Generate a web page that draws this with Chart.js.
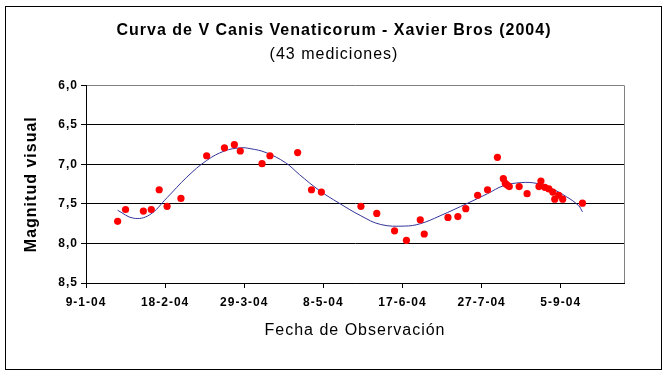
<!DOCTYPE html>
<html>
<head>
<meta charset="utf-8">
<script src="https://cdn.jsdelivr.net/npm/chart.js@4.4.1/dist/chart.umd.min.js"></script>
<style>
  body { margin: 0; background: #fff; }
  canvas { display: block; }
</style>
</head>
<body>
<canvas id="curveChart" width="668" height="377"></canvas>
<script>
// observations (date, visual magnitude)
const obsDates = [
  "2004-01-25", "2004-01-29", "2004-02-07", "2004-02-11", "2004-02-15",
  "2004-02-19", "2004-02-26", "2004-03-10", "2004-03-19", "2004-03-24",
  "2004-03-27", "2004-04-07", "2004-04-11", "2004-04-25", "2004-05-02",
  "2004-05-07", "2004-05-27", "2004-06-04", "2004-06-13", "2004-06-19",
  "2004-06-26", "2004-06-28", "2004-07-10", "2004-07-15", "2004-07-19",
  "2004-07-25", "2004-07-30", "2004-08-04", "2004-08-07", "2004-08-08",
  "2004-08-09", "2004-08-10", "2004-08-15", "2004-08-19", "2004-08-25",
  "2004-08-26", "2004-08-28", "2004-08-30", "2004-09-01", "2004-09-02",
  "2004-09-04", "2004-09-06", "2004-09-16"
];
const obsMag = [
  7.72, 7.57, 7.59, 7.57, 7.32,
  7.53, 7.43, 6.89, 6.79, 6.75,
  6.83, 6.99, 6.89, 6.85, 7.32,
  7.35, 7.53, 7.62, 7.84, 7.96,
  7.70, 7.88, 7.67, 7.66, 7.56,
  7.39, 7.32, 6.91, 7.18, 7.24,
  7.26, 7.28, 7.28, 7.37, 7.28,
  7.21, 7.29, 7.31, 7.35, 7.44,
  7.39, 7.44, 7.49
];

// polynomial trend line
const trendDates = [
  "2004-01-25", "2004-02-02", "2004-02-10", "2004-02-19", "2004-02-29",
  "2004-03-10", "2004-03-19", "2004-03-27", "2004-04-01", "2004-04-09",
  "2004-04-19", "2004-04-26", "2004-05-06", "2004-05-16", "2004-05-27",
  "2004-06-06", "2004-06-18", "2004-06-26", "2004-07-06", "2004-07-20",
  "2004-07-30", "2004-08-07", "2004-08-16", "2004-08-24", "2004-08-31",
  "2004-09-08", "2004-09-14", "2004-09-16"
];
const trendMag = [
  7.58, 7.68, 7.64, 7.42, 7.16,
  6.95, 6.83, 6.79, 6.80, 6.85,
  6.98, 7.13, 7.33, 7.49, 7.65,
  7.76, 7.78, 7.75, 7.65, 7.49,
  7.37, 7.27, 7.23, 7.24, 7.30,
  7.41, 7.52, 7.60
];

const axisStart = "2004-01-09";
const axisDays = 272;
const tickStep = 40;
const magTicks = [6.0, 6.5, 7.0, 7.5, 8.0, 8.5];

const DAY = 86400000;
const t0 = Date.parse(axisStart + "T00:00:00Z");
function toDay(s) {
  return Math.round((Date.parse(s + "T00:00:00Z") - t0) / DAY);
}
function fmtDay(d) {
  const dt = new Date(t0 + d * DAY);
  return dt.getUTCDate() + "-" + (dt.getUTCMonth() + 1) + "-" + String(dt.getUTCFullYear()).slice(2);
}

// the old Excel text is drawn a bit spaced out
const spacing = {
  id: "spacing",
  beforeDraw(chart) { chart.ctx.letterSpacing = "1px"; },
  afterDraw(chart) { chart.ctx.letterSpacing = "0px"; }
};

const frame = {
  id: "frame",
  afterDraw(chart) {
    const { ctx, chartArea } = chart;
    ctx.save();
    ctx.strokeStyle = "#808080";
    ctx.lineWidth = 1;
    ctx.beginPath();
    ctx.moveTo(chartArea.right + 0.5, chartArea.top);
    ctx.lineTo(chartArea.right + 0.5, chartArea.bottom);
    ctx.stroke();
    ctx.strokeStyle = "#000";
    ctx.strokeRect(5.5, 6.5, 656, 363);
    ctx.restore();
  }
};

Chart.defaults.font.family = "'Liberation Sans', Arial, sans-serif";
Chart.defaults.color = "#000";

new Chart(document.getElementById("curveChart"), {
  type: "scatter",
  data: {
    datasets: [
      {
        label: "Tendencia",
        data: trendDates.map((d, i) => ({ x: toDay(d), y: trendMag[i] })),
        showLine: true,
        borderColor: "#333399",
        borderWidth: 1,
        pointRadius: 0,
        tension: 0.4,
        order: 2
      },
      {
        label: "V CVn",
        data: obsDates.map((d, i) => ({ x: toDay(d), y: obsMag[i] })),
        backgroundColor: "#ff0000",
        borderWidth: 0,
        pointRadius: 3.6,
        order: 1
      }
    ]
  },
  options: {
    responsive: false,
    animation: false,
    devicePixelRatio: 1,
    layout: { padding: { left: 0, right: 0, top: 0, bottom: 37 } },
    plugins: {
      legend: { display: false },
      tooltip: { enabled: false },
      title: {
        display: true,
        text: "Curva de V Canis Venaticorum - Xavier Bros (2004)",
        font: { size: 16, weight: "bold" },
        padding: { top: 21, bottom: 5 }
      },
      subtitle: {
        display: true,
        text: "(43 mediciones)",
        font: { size: 16 },
        color: "#000",
        padding: { top: 0, bottom: 21 }
      }
    },
    scales: {
      x: {
        type: "linear",
        min: 0,
        max: axisDays,
        afterBuildTicks: (s) => {
          const t = [];
          for (let v = 0; v <= axisDays; v += tickStep) t.push({ value: v });
          s.ticks = t;
        },
        afterFit: (s) => { s.height = 57; },
        ticks: {
          callback: (v) => fmtDay(v),
          font: { size: 12, weight: "bold" },
          maxRotation: 0,
          autoSkip: false,
          padding: 7
        },
        grid: { drawOnChartArea: false, drawTicks: true, tickLength: 5, color: "#000" },
        border: { color: "#000" },
        title: {
          display: true,
          text: "Fecha de Observación",
          font: { size: 16 },
          padding: { top: 4, bottom: 0 }
        }
      },
      y: {
        min: 6,
        max: 8.5,
        reverse: true,
        afterBuildTicks: (s) => { s.ticks = magTicks.map((v) => ({ value: v })); },
        afterFit: (s) => { s.width = 86; },
        ticks: {
          callback: (v) => v.toFixed(1).replace(".", ","),
          font: { size: 12, weight: "bold" },
          padding: 3
        },
        grid: {
          color: (c) => (c.tick && c.tick.value === 6 ? "#808080" : "#000"),
          tickColor: "#000",
          tickLength: 5
        },
        border: { color: "#000" },
        title: {
          display: true,
          text: "Magnitud visual",
          font: { size: 16, weight: "bold" },
          padding: { top: 22, bottom: 0 }
        }
      },
      // empty space right of the plot area
      yRight: {
        position: "right",
        afterFit: (s) => { s.width = 44; },
        grid: { display: false },
        border: { display: false },
        ticks: { display: false },
        title: { display: false }
      }
    }
  },
  plugins: [spacing, frame]
});
</script>
</body>
</html>
